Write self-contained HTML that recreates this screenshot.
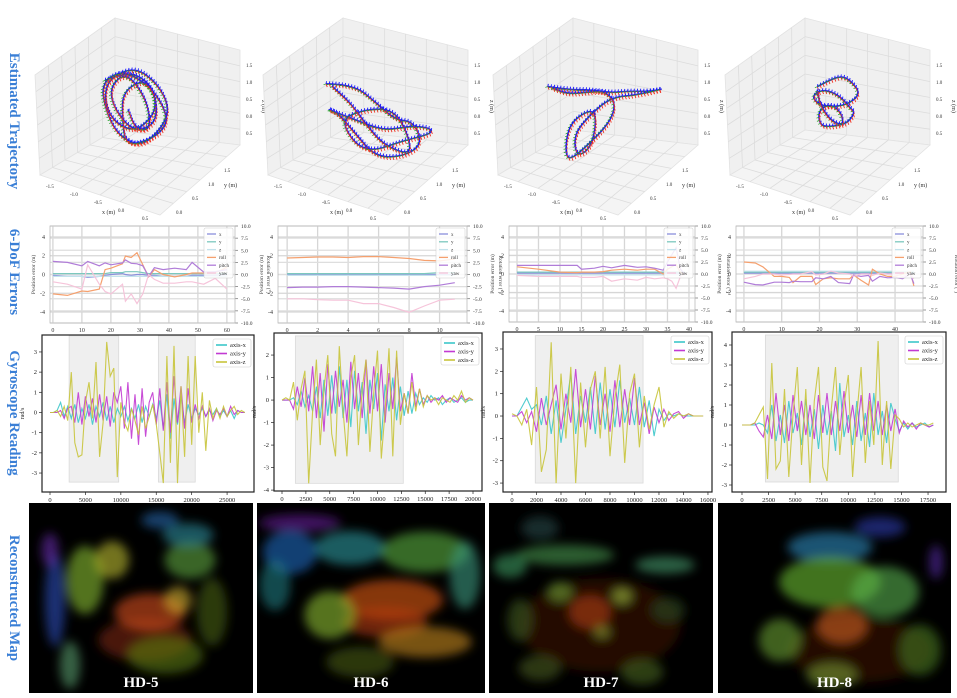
<!DOCTYPE html>
<html><head><meta charset="utf-8">
<style>
html,body{margin:0;padding:0;background:#fff;}
svg{display:block;font-family:"Liberation Serif",serif;}
</style></head>
<body>
<svg id="fig" width="957" height="698" viewBox="0 0 957 698">
  <defs>
    <filter id="blur" x="-50%" y="-50%" width="200%" height="200%"><feGaussianBlur stdDeviation="5"/></filter>
  </defs>
  <g font-weight="bold" font-size="15" fill="#3a7fd6">
    <text transform="translate(10,121) rotate(90)" text-anchor="middle">Estimated Trajectory</text>
    <text transform="translate(10,272) rotate(90)" text-anchor="middle">6-DoF Errors</text>
    <text transform="translate(10,413) rotate(90)" text-anchor="middle">Gyroscope Reading</text>
    <text transform="translate(10,598) rotate(90)" text-anchor="middle">Reconstructed Map</text>
  </g>
</svg>
<script>
// ---------------- DATA ----------------
const traj1X=[-0.8,-0.5,-0.2,0.1,0.3,0.1,-0.3,-0.6,-0.7,-0.4,0,0.4,0.5,0.3,-0.1,-0.5,-0.8,-0.6,-0.2,0.2,0.5,0.4,0,-0.3,-0.5,-0.2,0.2,0.4,0.1,-0.4,-0.7,-0.5,0,0.3,0.2,-0.1];
const traj1Y=[0.8,1.0,1.1,1.0,0.7,0.4,0.3,0.5,0.8,1.1,1.2,1.0,0.6,0.3,0.2,0.4,0.7,1.0,1.2,1.1,0.8,0.5,0.3,0.6,0.9,1.1,0.9,0.6,0.4,0.5,0.8,1.0,0.9,0.6,0.3,0.5];
const traj1Z=[0.3,0.5,0.4,0.2,0,-0.3,-0.1,0.2,0.4,0.6,0.3,0,-0.2,-0.5,-0.3,0,0.3,0.5,0.2,-0.1,-0.2,-0.4,-0.6,-0.2,0.1,0.4,0.2,-0.1,-0.3,0,0.2,0.5,0.1,-0.3,-0.1,0.1];
const traj2X=[-1.0,-0.6,-0.2,0.2,0.6,0.9,0.7,0.3,-0.1,-0.5,-0.8,-0.4,0,0.4,0.8,1.0,0.6,0.2,-0.2,-0.6,-0.3,0.1,0.5,0.7,0.3,-0.1,-0.5,-0.9];
const traj2Y=[0.9,1.0,1.0,0.9,0.8,0.6,0.4,0.3,0.4,0.5,0.6,0.8,0.9,1.0,0.9,0.7,0.5,0.4,0.5,0.7,0.9,1.0,0.8,0.6,0.5,0.6,0.8,0.9];
const traj2Z=[0.2,0.3,0.1,0,0.2,0,-0.2,-0.3,-0.1,0.1,0,-0.2,-0.3,-0.1,0.1,0.2,0,-0.3,-0.4,-0.2,0,0.1,-0.1,-0.3,-0.2,0,0.1,0.2];
const traj3X=[-1.0,-0.6,-0.2,0.1,0.4,0.8,1.0,0.6,0.2,0,-0.1,0.1,0.3,0.2,0,-0.3,-0.2,0,0.2,0.4,0.3,0,-0.3,-0.6,-0.9];
const traj3Y=[0.9,0.9,1.0,1.1,1.2,1.3,1.4,1.2,1.0,0.7,0.4,0.2,0.3,0.6,0.8,0.6,0.3,0.1,0.4,0.7,1.0,1.1,1.0,0.9,0.9];
const traj3Z=[0.1,0.2,0.3,0.3,0.4,0.5,0.6,0.4,0.3,0,-0.3,-0.6,-0.4,-0.1,0.1,-0.2,-0.5,-0.7,-0.4,0,0.2,0.3,0.2,0.1,0.1];
const traj4X=[-0.6,-0.3,0,0.3,0.6,0.4,0,-0.4,-0.7,-0.5,-0.1,0.3,0.6,0.5,0.1,-0.3,-0.5,-0.2,0.2,0.4,0.1,-0.3,-0.6];
const traj4Y=[0.8,0.9,1.0,1.0,0.9,0.7,0.6,0.6,0.7,0.9,1.0,0.9,0.7,0.5,0.4,0.5,0.7,0.8,0.7,0.5,0.4,0.5,0.8];
const traj4Z=[0.3,0.6,0.8,0.7,0.5,0.2,0,-0.1,0,0.2,0.1,-0.1,0,-0.3,-0.5,-0.7,-0.4,-0.1,-0.2,-0.4,-0.3,0,0.2];

const dofXTicks1=[0,10,20,30,40,50,60];
const dof1T=[0,5,10,12,16,18,20,24,25,27,29,31,33,35,38,42,46,48,52,56,60];
const dof1PosX=[-0.1,-0.2,-0.2,-0.3,-0.2,-0.1,0,0.1,0,-0.1,0,0,-0.1,-0.1,-0.2,-0.2,-0.2,-0.1,-0.1,-0.1,0];
const dof1PosY=[0.1,0.1,0.1,0.1,0.1,0.1,0.2,0.2,0.3,0.3,0.3,0.2,0.1,0.1,0.1,0.1,0.1,0.1,0.1,0.1,0.1];
const dof1PosZ=[-0.2,-0.2,-0.2,-0.2,-0.2,-0.2,-0.2,-0.2,-0.2,-0.2,-0.2,-0.2,-0.2,-0.2,-0.2,-0.2,-0.2,-0.2,-0.2,-0.2,-0.2];
const dof1Roll=[-4,-4.3,-3.4,-3.5,-3,1,1.3,2.2,3.8,3.5,4.5,2,-0.5,1,0,-0.5,0,0.3,0.3,0.3,1.5];
const dof1Pitch=[2.7,2.5,1.8,2.7,1.8,2.4,2,2.4,3,2.3,2.2,1.8,-0.4,1.4,1,1.3,1,2.5,0.5,0.6,1];
const dof1Yaw=[-1.5,-2,-3,2,-2,-3.5,-4,-2,-5.5,-4,-6,-4,0,-1,-1.8,-1.8,-1.5,-1.5,-2,-0.8,-3];

const dofXTicks2=[0,2,4,6,8,10];
const dof2T=[0,1,2,3,4,5,6,7,8,9,10,11];
const dof2PosX=[0,0,0,0,0,0,0,0,0,0,0,0];
const dof2PosY=[0.1,0.1,0.1,0.1,0.1,0.1,0.1,0.1,0.1,0.1,0.2,0.2];
const dof2PosZ=[-0.1,-0.1,-0.1,-0.1,-0.1,-0.1,-0.1,-0.1,-0.1,-0.1,-0.1,-0.1];
const dof2Roll=[3.4,3.5,3.6,3.6,3.5,3.7,3.7,3.5,3.3,2.9,2.8,3.2];
const dof2Pitch=[-2.7,-2.6,-2.6,-2.5,-2.5,-2.6,-2.7,-2.8,-3,-2.5,-2.2,-1.7];
const dof2Yaw=[-5,-5,-5.2,-5.3,-5.3,-6,-6,-6.8,-7.8,-6.5,-5.3,-5.1];

const dofXTicks3=[0,5,10,15,20,25,30,35,40];
const dof3T=[0,5,10,14,15,18,20,22,25,28,30,32,34,35,36,37,38,39];
const dof3PosX=[0.1,0.1,0.1,0.1,0.1,0.1,0.1,0.1,0.1,0.1,0.1,0.1,0.1,0.1,0.1,0.1,0.1,0.1];
const dof3PosY=[0.2,0.2,0.2,0.2,0.2,0.2,0.2,0.2,0.2,0.2,0.2,0.2,0.2,0.2,0.2,0.2,0.2,0.2];
const dof3PosZ=[-0.1,-0.1,-0.1,-0.1,-0.1,-0.1,-0.1,-0.1,-0.1,-0.1,-0.1,-0.1,-0.1,-0.1,-0.1,-0.1,-0.1,-0.1];
const dof3Roll=[1.5,1,0.4,0.3,0.4,0.4,0.5,0.8,1,0.8,1,1,0,1,1.5,2,0.3,0];
const dof3Pitch=[1.8,1.8,1.8,1.8,1,1.2,1.6,1.3,1.8,1.4,1.5,1.2,0.8,2.5,4,5.5,1,0];
const dof3Yaw=[-0.3,-0.5,-0.5,-0.5,-0.7,-0.7,-0.5,-1.5,-1,-1.3,-0.7,-1,-0.8,-1,-1.5,-3,-0.5,0];

const dofXTicks4=[0,10,20,30,40];
const dof4T=[0,3,5,8,10,12,13,15,18,19,21,23,25,28,29,31,33,34,36,38,40,42,44,45];
const dof4PosX=[0.1,0.1,0.1,0.1,0.1,0.1,0.1,0.1,0.1,0.1,0.1,0.1,0.1,0.1,0.1,0.1,0.1,0.1,0.1,0.1,0.1,0.1,0.1,0.1];
const dof4PosY=[0.2,0.2,0.2,0.2,0.2,0.2,0.2,0.2,0.2,0.2,0.2,0.2,0.2,0.2,0.2,0.2,0.2,0.2,0.2,0.2,0.2,0.2,0.2,0.2];
const dof4PosZ=[0.3,0.3,0.3,0.3,0.3,0.3,0.3,0.3,0.3,0.3,0.3,0.3,0.3,0.3,0.3,0.3,0.3,0.3,0.3,0.3,0.3,0.3,0.3,0.3];
const dof4Roll=[2.5,2.3,1.5,-0.5,-0.5,-0.7,-1.8,-0.5,-0.5,-2.2,-1,-0.8,-1,-1,-0.2,-1.3,-2.3,1,0,-0.5,-0.5,0,0.5,-2.5];
const dof4Pitch=[-1.7,-2.2,-2.3,-1.7,-1.7,-1.8,-1.5,-1.6,-1.6,-0.8,-1,-0.5,-1.8,-2,-0.2,-0.5,-0.3,-1.5,-0.5,-0.8,-0.7,-1,0,-2];
const dof4Yaw=[-1,-0.5,0,0,-0.2,-0.1,0,0,0.5,-0.2,0,0.6,0.2,0,-0.5,0,0,-0.3,0.2,0,0,-0.5,0,-1];

const gyro1Step=500;
const gyro1XTicks=[0,5000,10000,15000,20000,25000];
const gyro1YTicks=[-3,-2,-1,0,1,2,3];
const gyro1X=[0,0,0.1,0.5,-0.2,0.3,-0.3,0.4,-0.5,0.2,-0.3,0.4,-0.6,0.3,-0.2,0.5,-0.4,0.3,-0.5,0.2,-0.2,0.3,-0.4,0.2,-0.3,0.4,-0.5,0.3,-0.2,0.4,-0.3,0.6,-0.8,0.9,-1.3,0.7,-0.6,0.8,-0.5,0.4,-0.3,0.2,-0.1,0.2,-0.2,0.1,-0.1,0.2,-0.2,0.1,-0.2,0.1,-0.3,0.1,0,0];
const gyro1Y=[0,0,0,0.1,-0.3,0.2,0.3,-0.5,1.0,-0.6,0.8,-0.2,0.7,-0.5,0.9,-0.4,0.8,-0.7,1.0,0.5,1.3,-0.8,1.5,-1.3,0.9,-1.6,1.2,-1.2,0.5,1.0,-0.6,1.2,-0.9,1.5,-1.0,1.8,-0.5,1.3,-0.8,1.2,-0.5,0.4,-0.3,0.3,-0.2,0.2,-0.4,0.1,-0.1,0.2,-0.2,0.3,-0.1,0.1,0,0];
const gyro1Z=[0,0,0.1,-0.2,0.3,-0.4,2.0,-1.5,-2.2,-2.1,0.5,1.5,-0.3,2.5,-2.2,-0.5,3.5,1.8,2.2,-3.2,0.5,-0.5,-0.9,0.2,-0.4,-1.1,0.3,-0.8,-0.2,0.4,-0.6,-2.0,-3.5,2.8,-2.5,3.3,-3.5,1.3,-2.2,2.8,-1.6,2.8,-1.0,1.0,-1.9,0.6,-0.3,0.2,-0.3,0.3,-0.2,0.1,0.3,-0.1,0.1,0];

const gyro2Step=400;
const gyro2XTicks=[0,2500,5000,7500,10000,12500,15000,17500,20000];
const gyro2YTicks=[-4,-3,-2,-1,0,1,2];
const gyro2X=[0,0,0,0.1,-0.2,0.4,-0.3,0.2,-0.5,0.6,-0.8,0.9,-0.7,1.1,-0.6,1.5,-0.8,0.9,-1.2,1.3,-0.5,0.8,-1.5,0.9,-0.4,1.2,-1.8,0.7,-0.5,1.0,-0.9,0.6,-0.7,0.4,-0.6,0.3,-0.2,0.1,-0.1,0.2,0,0.1,-0.2,0,0.1,-0.1,0,0.1,-0.1,0,0];
const gyro2Y=[0,0,0,-0.4,0.6,-0.3,1.0,-0.5,1.5,-0.8,1.2,-1.4,1.6,-0.6,1.3,-0.3,0.9,-1.0,1.7,-0.4,1.2,-0.8,1.8,-0.6,1.5,-0.5,1.6,-1.0,1.2,-0.4,1.9,-0.5,0.3,-0.6,1.2,-0.3,0.5,-0.2,0.2,-0.1,0.1,0,0.2,-0.1,0.1,0,-0.1,0.2,0,0.1,0];
const gyro2Z=[0,0.1,0,0.8,-0.9,0.5,1.3,-3.7,-0.5,1.8,-2.0,0.5,2.0,-1.5,-2.5,2.4,-0.5,-2.5,1.0,2.0,-2.0,0.5,1.8,-2.3,0.3,2.2,-2.6,-0.5,2.3,-2.5,2.2,-1.1,0.3,-0.6,0.8,-0.5,0.5,-0.3,0.2,0,0.1,-0.2,0.1,0,-0.1,0.2,0,0.4,-0.1,0.1,0];

const gyro3Step=400;
const gyro3XTicks=[0,2000,4000,6000,8000,10000,12000,14000,16000];
const gyro3YTicks=[-3,-2,-1,0,1,2,3];
const gyro3X=[0,0,0.4,0.8,0.3,0.5,-0.4,0.9,-0.8,0.7,-1.2,0.3,1.9,-0.8,0.9,-0.3,1.3,-0.8,1.5,-0.6,1.2,-0.5,1.6,-0.3,0.8,-0.4,1.3,-0.5,0.7,-0.9,0.3,-0.2,0.1,0,0.1,0,0,0,0,0];
const gyro3Y=[0,0,0.2,-0.3,0.2,-0.7,0.8,-0.4,0.5,1.4,-0.6,1.0,-0.3,2.1,-0.5,1.2,-0.6,1.8,-0.4,1.0,-0.7,1.6,-0.5,1.2,-0.4,1.7,-0.4,0.6,-0.8,0.4,-0.3,0.3,-0.2,0.1,0.2,-0.1,0.1,0,0,0];
const gyro3Z=[0.1,0,-0.4,0.3,-1.3,1.3,-2.5,-1.5,3.3,-3.0,1.9,-1.0,2.2,-3.0,1.5,-1.4,1.2,2.0,-1.0,2.2,-1.8,0.8,2.3,-2.1,1.0,1.9,-1.4,0.9,-0.6,0.5,1.3,-0.5,0.2,-0.1,0.1,0,0.1,0,0,0];

const gyro4Step=400;
const gyro4XTicks=[0,2500,5000,7500,10000,12500,15000,17500];
const gyro4YTicks=[-3,-2,-1,0,1,2,3,4];
const gyro4X=[0,0,0,0,0.1,0,-0.4,1.0,-0.8,0.5,-0.9,1.2,-0.4,0.6,-1.0,1.3,-0.6,0.8,-1.2,1.0,-0.5,0.7,-1.3,2.1,-0.6,0.5,-1.0,1.2,-0.8,0.6,-1.1,1.6,-0.5,0.7,-0.9,1.1,0.3,-0.3,0.1,-0.2,0.1,-0.1,0,0.1,-0.1,0];
const gyro4Y=[0,0,0,0.1,-0.3,-0.6,0.5,-0.7,1.6,-0.5,1.0,-0.8,1.5,-0.3,1.2,-0.5,1.0,-0.7,1.5,-0.4,1.6,-0.5,1.2,-0.3,1.7,-0.4,1.0,-0.6,1.5,-0.5,1.6,-0.3,1.2,-0.5,1.0,-0.3,0.8,-0.4,0.2,-0.1,0.1,-0.2,0.1,0,-0.1,0];
const gyro4Z=[0,0,0,0.1,0.5,0.9,-2.7,3.1,-2.2,-1.8,1.8,-2.6,0.5,2.9,-2.0,1.8,-2.9,1.2,2.9,-2.1,-2.8,0.8,2.9,-1.5,1.0,2.5,-2.6,0.5,2.9,-1.9,1.2,-1.0,4.2,-2.0,1.2,-2.2,0.5,0.3,-0.1,0.1,-0.1,0,0.1,0,0,0.1];

// ---------------- HELPERS ----------------
const NS='http://www.w3.org/2000/svg';
const svg=document.getElementById('fig');
function mk(tag,attrs,parent){const e=document.createElementNS(NS,tag);for(const k in attrs)e.setAttribute(k,attrs[k]);(parent||svg).appendChild(e);return e;}
function txt(s,attrs,parent){const e=mk('text',attrs,parent);e.textContent=s;return e;}
function lin(d0,d1,r0,r1){return v=>r0+(v-d0)/(d1-d0)*(r1-r0);}

// ---------------- 3D PLOTS ----------------
function draw3D(name,dx,P,tx,ty,tz,cx,cy,s){
  const g=mk('g',{});
  
  
  const T=[115+dx,18],L=[35+dx,75],R=[240+dx,50],B=[115+dx,130],LB=[40+dx,175],RB=[240+dx,145],F=[160+dx,215];
  const panes=[[T,L,LB,B],[T,R,RB,B],[B,LB,F,RB]];
  panes.forEach((p,i)=>{
    const pl=mk('polygon',{points:p.map(q=>q.join(',')).join(' '),fill:i==2?'#f4f4f4':'#f0f0f0',stroke:'#e2e2e2','stroke-width':0.8},g);
    
    
    for(let k=1;k<6;k++){const f=k/6;
      const a=[p[0][0]+(p[1][0]-p[0][0])*f,p[0][1]+(p[1][1]-p[0][1])*f],b=[p[3][0]+(p[2][0]-p[3][0])*f,p[3][1]+(p[2][1]-p[3][1])*f];
      const l1=mk('line',{x1:a[0],y1:a[1],x2:b[0],y2:b[1],stroke:'#dcdcdc','stroke-width':0.8},g);
      
      const c=[p[0][0]+(p[3][0]-p[0][0])*f,p[0][1]+(p[3][1]-p[0][1])*f],d=[p[1][0]+(p[2][0]-p[1][0])*f,p[1][1]+(p[2][1]-p[1][1])*f];
      const l2=mk('line',{x1:c[0],y1:c[1],x2:d[0],y2:d[1],stroke:'#dcdcdc','stroke-width':0.8},g);
      
    }
  });
  const labs=['-1.5','-1.0','-0.5','0.0','0.5'];
  labs.forEach((t,i)=>{const f=(i+0.5)/5;
    const e=txt(t,{x:LB[0]+(F[0]-LB[0])*f-6,y:LB[1]+(F[1]-LB[1])*f+9,'font-size':5,fill:'#333'},g);
    
    const e2=txt(['0.0','0.5','1.0','1.5',''][i],{x:F[0]+(RB[0]-F[0])*f+8,y:F[1]+(RB[1]-F[1])*f+6,'font-size':5,fill:'#333'},g);
    
    const e3=txt(['0.5','0.0','0.5','1.0','1.5'][i],{x:R[0]+6,y:RB[1]-10-i*17,'font-size':5,fill:'#333'},g);
    
  });
  const xl=txt('x (m)',{x:LB[0]+(F[0]-LB[0])*0.55-4,y:LB[1]+(F[1]-LB[1])*0.55+17,'font-size':6,fill:'#333'},g);
  
  const yl=txt('y (m)',{x:F[0]+(RB[0]-F[0])*0.6+16,y:F[1]+(RB[1]-F[1])*0.6+14,'font-size':6,fill:'#333'},g);
  
  const zl=txt('z (m)',{transform:`translate(${R[0]+22},${RB[1]-45}) rotate(90)`,'font-size':6,fill:'#333'},g);
  
  const px=i=>cx+s*(0.8*tx[i]+0.6*(ty[i]-0.7));
  const py=i=>cy+s*(0.3*tx[i]-0.45*(ty[i]-0.7)-0.7*tz[i]);
  let pts=[];for(let i=0;i<tx.length;i++)pts.push([px(i),py(i)]);
  let d='M'+pts[0][0]+','+pts[0][1];
  for(let i=1;i<pts.length-1;i++){const m=[(pts[i][0]+pts[i+1][0])/2,(pts[i][1]+pts[i+1][1])/2];d+=` Q${pts[i][0]},${pts[i][1]} ${m[0]},${m[1]}`;}
  d+=' L'+pts[pts.length-1].join(',');
  const path=mk('path',{d,fill:'none',stroke:'#2a2ae0','stroke-width':1.6},g);
  
  const tot=path.getTotalLength?path.getTotalLength():0;
  for(let l=0;l<tot;l+=3.2){const p=path.getPointAtLength(l);
    const r=mk('line',{x1:p.x,y1:p.y,x2:p.x+1.2,y2:p.y+3.2,stroke:'#f03020','stroke-width':0.9},g);
    
    const gr=mk('line',{x1:p.x,y1:p.y,x2:p.x-2.5,y2:p.y+1,stroke:'#20a020','stroke-width':0.7},g);
    
    const b=mk('line',{x1:p.x,y1:p.y,x2:p.x+0.5,y2:p.y-2.6,stroke:'#1515ff','stroke-width':0.9},g);
    
  }
}
draw3D('trajectory-3d-hd5',0,0,traj1X,traj1Y,traj1Z,140,110,60);
draw3D('trajectory-3d-hd6',228,0,traj2X,traj2Y,traj2Z,375,122,72);
draw3D('trajectory-3d-hd7',458,0,traj3X,traj3Y,traj3Z,590,115,62);
draw3D('trajectory-3d-hd8',690,0,traj4X,traj4Y,traj4Z,835,105,42);

// ---------------- 6-DoF PLOTS ----------------
const dofColors={x:'#8a8fdc',y:'#7cc8be',z:'#c3e2ec',roll:'#f5a06e',pitch:'#b07cd8',yaw:'#f6c4da'};
function drawDof(name,box,xlim,xticks,t,px,py,pz,roll,pitch,yaw){
  const g=mk('g',{});
  
  
  const [x0,x1,y0,y1]=box;
  const X=lin(xlim[0],xlim[1],x0,x1);
  const YL=lin(-5.17,5.17,y1,y0);
  const YR=lin(-10,10,y1,y0);
  const bg=mk('rect',{x:x0,y:y0,width:x1-x0,height:y1-y0,fill:'#fff'},g);
  
  xticks.forEach(v=>{
    const l=mk('line',{x1:X(v),y1:y0,x2:X(v),y2:y1,stroke:'#d6d6d6','stroke-width':1.3},g);
    
    const tk=txt(String(v),{x:X(v),y:y1+9,'font-size':6,'text-anchor':'middle',fill:'#333'},g);
    
  });
  [-4,-2,0,2,4].forEach(v=>{
    const l=mk('line',{x1:x0,y1:YL(v),x2:x1,y2:YL(v),stroke:'#d6d6d6','stroke-width':1.3},g);
    
    const tk=txt(String(v),{x:x0-5,y:YL(v)+2,'font-size':6,'text-anchor':'end',fill:'#333'},g);
    
  });
  [-10,-7.5,-5,-2.5,0,2.5,5,7.5,10].forEach(v=>{
    const l=mk('line',{x1:x0,y1:YR(v),x2:x1,y2:YR(v),stroke:'#dedede','stroke-width':1.3},g);
    
    const tk=txt(v.toFixed(1),{x:x1+6,y:YR(v)+2,'font-size':5.5,fill:'#333'},g);
    
    const tm=mk('line',{x1:x1,y1:YR(v),x2:x1+3,y2:YR(v),stroke:'#555','stroke-width':0.6},g);
    
  });
  const fr=mk('rect',{x:x0,y:y0,width:x1-x0,height:y1-y0,fill:'none',stroke:'#bbb','stroke-width':0.8},g);
  
  const yl=txt('Position error (m)',{transform:`translate(${x0-15},${(y0+y1)/2}) rotate(-90)`,'font-size':5.5,'text-anchor':'middle',fill:'#444'},g);
  
  const yr=txt('Rotation error (°)',{transform:`translate(${x1+32},${(y0+y1)/2}) rotate(90)`,'font-size':5.5,'text-anchor':'middle',fill:'#444'},g);
  
  const series=[['x',px,YL],['y',py,YL],['z',pz,YL],['roll',roll,YR],['pitch',pitch,YR],['yaw',yaw,YR]];
  series.forEach(([k,vals,Y])=>{
    const pts=vals.map((v,i)=>X(t[i]).toFixed(1)+','+Y(v).toFixed(1)).join(' ');
    const pl=mk('polyline',{points:pts,fill:'none',stroke:dofColors[k],'stroke-width':1.2},g);
    
  });
  const lg=mk('g',{},g);
  
  const lb=mk('rect',{x:x1-31,y:y0+2,width:29,height:50,fill:'#fff','fill-opacity':0.85,stroke:'#ccc','stroke-width':0.5,rx:1.5},lg);
  
  series.forEach(([k],i)=>{
    const yy=y0+8+i*7.8;
    const ll=mk('line',{x1:x1-28,y1:yy,x2:x1-19,y2:yy,stroke:dofColors[k],'stroke-width':1.3},lg);
    
    const lt=txt(k,{x:x1-16,y:yy+1.8,'font-size':5,fill:'#333'},lg);
    
  });
}
drawDof('dof-errors-hd5',[50,235,226,323],[-1,62.8],dofXTicks1,dof1T,dof1PosX,dof1PosY,dof1PosZ,dof1Roll,dof1Pitch,dof1Yaw);
drawDof('dof-errors-hd6',[278,467,226,323],[-0.6,11.8],dofXTicks2,dof2T,dof2PosX,dof2PosY,dof2PosZ,dof2Roll,dof2Pitch,dof2Yaw);
drawDof('dof-errors-hd7',[509,695,226,322],[-1.86,41.4],dofXTicks3,dof3T,dof3PosX,dof3PosY,dof3PosZ,dof3Roll,dof3Pitch,dof3Yaw);
drawDof('dof-errors-hd8',[736,923,226,322],[-2.1,47.4],dofXTicks4,dof4T,dof4PosX,dof4PosY,dof4PosZ,dof4Roll,dof4Pitch,dof4Yaw);

// ---------------- GYRO PLOTS ----------------
const gyroColors={x:'#3cc6ca',y:'#c23ad2',z:'#c8c43a'};
function drawGyro(name,box,xlim,ylim,shades,xticks,yticks,step,gx,gy,gz){
  const g=mk('g',{});
  
  
  const [x0,x1,y0,y1]=box;
  const X=lin(xlim[0],xlim[1],x0,x1), Y=lin(ylim[0],ylim[1],y1,y0);
  const bg=mk('rect',{x:x0,y:y0,width:x1-x0,height:y1-y0,fill:'#fff'},g);
  
  shades.forEach(shade=>{
    const sh=mk('rect',{x:X(shade[0]),y:Y(shade[3]),width:X(shade[1])-X(shade[0]),height:Y(shade[2])-Y(shade[3]),fill:'#efefef',stroke:'#dadada','stroke-width':0.8},g);
    
  });
  [['x',gx],['y',gy],['z',gz]].forEach(([k,vals])=>{
    const pts=vals.map((v,i)=>X(i*step).toFixed(1)+','+Y(v).toFixed(1)).join(' ');
    const pl=mk('polyline',{points:pts,fill:'none',stroke:gyroColors[k],'stroke-width':1.1,'stroke-opacity':0.9},g);
    
  });
  const fr=mk('rect',{x:x0,y:y0,width:x1-x0,height:y1-y0,fill:'none',stroke:'#222','stroke-width':1.2},g);
  
  xticks.forEach(v=>{
    const tm=mk('line',{x1:X(v),y1:y1,x2:X(v),y2:y1+3,stroke:'#222','stroke-width':0.7},g);
    
    const tk=txt(String(v),{x:X(v),y:y1+10,'font-size':6.5,'text-anchor':'middle',fill:'#222'},g);
    
  });
  yticks.forEach(v=>{
    const tm=mk('line',{x1:x0-3,y1:Y(v),x2:x0,y2:Y(v),stroke:'#222','stroke-width':0.7},g);
    
    const tk=txt(String(v),{x:x0-5,y:Y(v)+2,'font-size':6.5,'text-anchor':'end',fill:'#222'},g);
    
  });
  const yl=txt('rad/s',{transform:`translate(${x0-18},${(y0+y1)/2}) rotate(-90)`,'font-size':6,'text-anchor':'middle',fill:'#222'},g);
  
  const lg=mk('g',{},g);
  
  const lb=mk('rect',{x:x1-41,y:y0+4,width:38,height:28,fill:'#fff',stroke:'#ccc','stroke-width':0.6,rx:2},lg);
  
  ['x','y','z'].forEach((k,i)=>{
    const yy=y0+10+i*8.5;
    const ll=mk('line',{x1:x1-38,y1:yy,x2:x1-27,y2:yy,stroke:gyroColors[k],'stroke-width':1.6},lg);
    
    const lt=txt('axis-'+k,{x:x1-24,y:yy+2,'font-size':6.5,fill:'#222'},lg);
    
  });
}
drawGyro('gyro-hd5',[42,254,335,492],[-1130,28800],[-3.94,3.84],[[2700,9700,-3.45,3.8],[15300,20500,-3.45,3.8]],gyro1XTicks,gyro1YTicks,gyro1Step,gyro1X,gyro1Y,gyro1Z);
drawGyro('gyro-hd6',[274,482,333,491],[-838,20942],[-4.04,2.98],[[1400,12700,-3.7,2.85]],gyro2XTicks,gyro2YTicks,gyro2Step,gyro2X,gyro2Y,gyro2Z);
drawGyro('gyro-hd7',[503,712,332,492],[-735,16330],[-3.4,3.76],[[1900,10700,-3.0,3.6]],gyro3XTicks,gyro3YTicks,gyro3Step,gyro3X,gyro3Y,gyro3Z);
drawGyro('gyro-hd8',[732,946,332,492],[-940,19190],[-3.35,4.65],[[2200,14700,-2.85,4.5]],gyro4XTicks,gyro4YTicks,gyro4Step,gyro4X,gyro4Y,gyro4Z);

// ---------------- MAPS ----------------
function drawMap(name,label,r,blobs){
  const g=mk('g',{});
  
  
  const cp=mk('clipPath',{id:'clip-'+name},g);
  mk('rect',{x:r[0],y:r[1],width:r[2],height:r[3]},cp);
  const bg=mk('rect',{x:r[0],y:r[1],width:r[2],height:r[3],fill:'#000'},g);
  
  const bl=mk('g',{'clip-path':`url(#clip-${name})`},g);
  
  const inner=mk('g',{filter:'url(#blur)'},bl);
  blobs.forEach(b=>{
    const e=mk('ellipse',{cx:b[0],cy:b[1],rx:b[2]*0.85,ry:b[3]*0.85,fill:b[4],'fill-opacity':0.6},inner);
    
  });
  const t=txt(label,{x:r[0]+r[2]/2,y:r[1]+r[3]-6,'font-size':15,'font-weight':'bold','text-anchor':'middle',fill:'#fff'},g);
  
}
drawMap('map-hd5','HD-5',[29,503,224,190],[
 [145,640,55,25,'#7a2a0c'],[150,612,42,22,'#d8501a'],[85,580,22,40,'#8ac030'],[112,560,20,22,'#c0c030'],
 [190,560,30,22,'#60a840'],[165,655,45,22,'#5a7a18'],[212,612,18,40,'#4a6018'],[178,600,16,16,'#d0b030'],
 [188,535,30,14,'#2f8f9f'],[160,520,22,10,'#2a6ab0'],[55,600,12,55,'#2f50c0'],[50,550,10,20,'#6a2eb0'],[70,665,12,28,'#5aa070']]);
drawMap('map-hd6','HD-6',[257,503,228,190],[
 [300,523,48,10,'#6a1ea0'],[290,552,32,26,'#1f6ac0'],[350,548,42,20,'#2c9aa0'],[425,552,52,24,'#5cb040'],
 [465,575,18,40,'#3a9a80'],[392,600,60,24,'#e05a15'],[385,622,50,18,'#b53c10'],[330,615,30,28,'#90c030'],
 [425,642,55,18,'#c88a20'],[360,662,40,18,'#4a5a10'],[275,585,18,30,'#1f7a80']]);
drawMap('map-hd7','HD-7',[489,503,224,190],[
 [600,625,95,55,'#3a1505'],[590,612,25,20,'#b04010'],[565,555,58,12,'#4a9a50'],[665,565,35,10,'#4aa070'],
 [510,566,20,14,'#3a9a60'],[540,528,22,14,'#2a4a4a'],[560,592,15,12,'#70a030'],[622,596,12,10,'#a0c040'],
 [602,632,10,8,'#90a030'],[668,610,20,15,'#2c4a1c'],[540,668,25,15,'#4a5a1c'],[642,672,25,15,'#4a661c'],[520,620,15,25,'#405a1c']]);
drawMap('map-hd8','HD-8',[718,503,233,190],[
 [860,650,85,38,'#3a1805'],[830,547,50,18,'#2f8cc0'],[880,527,30,12,'#2f3eb0'],[830,582,60,30,'#6cc030'],
 [885,592,40,30,'#58b050'],[842,625,30,22,'#d06020'],[780,640,25,25,'#6aa030'],[832,675,30,15,'#7a9a30'],
 [920,650,25,30,'#447420'],[936,562,8,20,'#5a2eb0']]);
</script>
</body></html>
